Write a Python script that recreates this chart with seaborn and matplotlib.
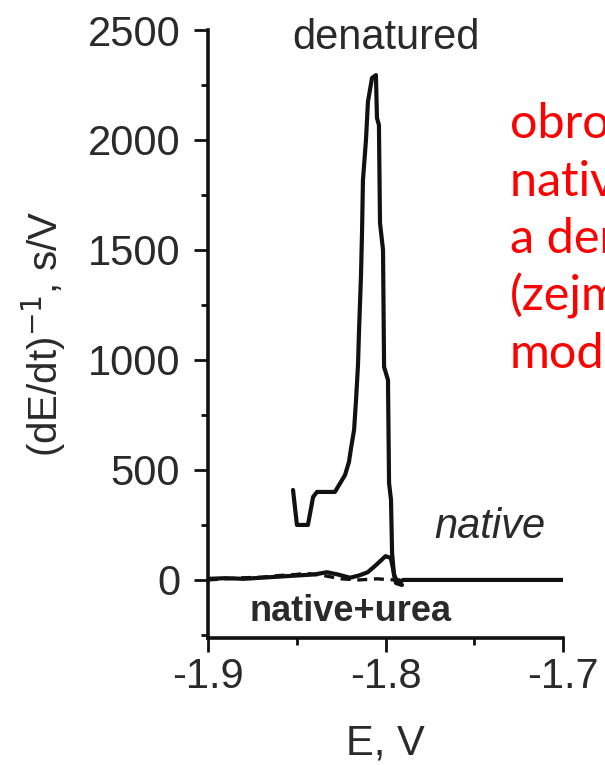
import matplotlib
matplotlib.use("Agg")
import matplotlib.pyplot as plt
from matplotlib.ticker import MultipleLocator
import numpy as np
import pandas as pd
import seaborn as sns

# Inverse derivative chronopotentiograms: (dE/dt)^-1 vs E
E_denatured = [-1.8521, -1.8499, -1.8437, -1.8408, -1.8386, -1.8285, -1.8268,
               -1.8228, -1.8206, -1.8194, -1.8177, -1.8166, -1.8155, -1.8149,
               -1.8138, -1.8132, -1.8127, -1.8110, -1.8099, -1.8076, -1.8054,
               -1.8048, -1.8037, -1.8031, -1.8014, -1.8008, -1.7986, -1.7980,
               -1.7969, -1.7963, -1.7952, -1.7941, -1.7907]
v_denatured = [409, 250, 250, 377, 400, 400, 423,
               477, 536, 600, 682, 818, 977, 1136,
               1386, 1591, 1818, 2000, 2173, 2282, 2295,
               2100, 2068, 1623, 1500, 968, 909, 441,
               364, 123, 23, -14, -23]

E_native = [-1.900, -1.890, -1.880, -1.870, -1.860, -1.850, -1.840, -1.833,
            -1.827, -1.820, -1.815, -1.810, -1.805, -1.800, -1.797, -1.795,
            -1.793, -1.790, -1.700]
v_native = [5, 8, 5, 10, 15, 20, 25, 35,
            25, 10, 20, 35, 70, 108, 100, 20,
            -15, 0, 0]

E_urea = [-1.900, -1.890, -1.880, -1.870, -1.860, -1.850, -1.845, -1.835,
          -1.825, -1.815, -1.805, -1.795, -1.790]
v_urea = [0, 5, 10, 12, 20, 25, 30, 20, 5, 0, 5, 0, 0]

y_ticks = [0, 500, 1000, 1500, 2000, 2500]
x_ticks = [-1.9, -1.8, -1.7]
x_tick_labels = ["-1.9", "-1.8", "-1.7"]

note_lines = ["obrovský rozdíl", "nativní formy", "a denaturované", "(zejména", "modifikované)"]

df = pd.concat([
    pd.DataFrame({"E": E_denatured, "v": v_denatured, "form": "denatured"}),
    pd.DataFrame({"E": E_native, "v": v_native, "form": "native"}),
    pd.DataFrame({"E": E_urea, "v": v_urea, "form": "native+urea"}),
], ignore_index=True)

sns.set_style("ticks")
plt.rcParams["font.family"] = ["Liberation Sans", "DejaVu Sans"]

W, H = 605, 765
fig = plt.figure(figsize=(W / 100, H / 100), dpi=100)
ax = fig.add_axes([208 / W, (H - 638) / H, (563 - 208) / W, (638 - 30) / H])

line_col = "#111111"
text_col = "#2a2a2a"
sns.lineplot(data=df[df.form == "denatured"], x="E", y="v", sort=False,
             color=line_col, lw=3.0, ax=ax, legend=False)
sns.lineplot(data=df[df.form == "native"], x="E", y="v", sort=False,
             color=line_col, lw=3.0, ax=ax, legend=False)
sns.lineplot(data=df[df.form == "native+urea"], x="E", y="v", sort=False,
             color=line_col, lw=2.4, ls=(0, (3, 2)), ax=ax, legend=False)

ax.set_xlim(-1.9, -1.7)
ax.set_ylim(-264, 2500)
ax.set_xticks(x_ticks)
ax.set_xticklabels(x_tick_labels)
ax.set_yticks(y_ticks)
ax.xaxis.set_minor_locator(MultipleLocator(0.05))
ax.yaxis.set_minor_locator(MultipleLocator(250))
ax.tick_params(which="major", length=10, width=2.0, color=line_col,
               labelsize=30, labelcolor=text_col)
ax.tick_params(which="minor", length=5, width=2.0, color=line_col)
ax.tick_params(axis="y", which="major", pad=10)
ax.tick_params(axis="x", which="major", pad=4)

for side in ("top", "right"):
    ax.spines[side].set_visible(False)
for side in ("left", "bottom"):
    ax.spines[side].set_linewidth(2.6)
    ax.spines[side].set_color(line_col)

ax.set_xlabel("E, V", fontsize=30, color=text_col, labelpad=19)
ax.set_ylabel(r"(dE/dt)$^{-1}$, s/V", fontsize=29, color=text_col, labelpad=14)

ax.text(-1.8, 2462, "denatured", ha="center", va="center", fontsize=30, color=text_col)
ax.text(-1.741, 241, "native", ha="center", va="center", fontsize=30,
        style="italic", color=text_col)
ax.text(-1.8195, -145, "native+urea", ha="center", va="center", fontsize=26,
        fontweight="bold", color=text_col)

for i, line in enumerate(note_lines):
    fig.text(510 / W, 1 - (138 + 57.5 * i) / H, line, ha="left", va="baseline",
             fontsize=35, color="#ff0000", family=["Lato", "DejaVu Sans"])

fig.savefig("out.png", dpi=100)
